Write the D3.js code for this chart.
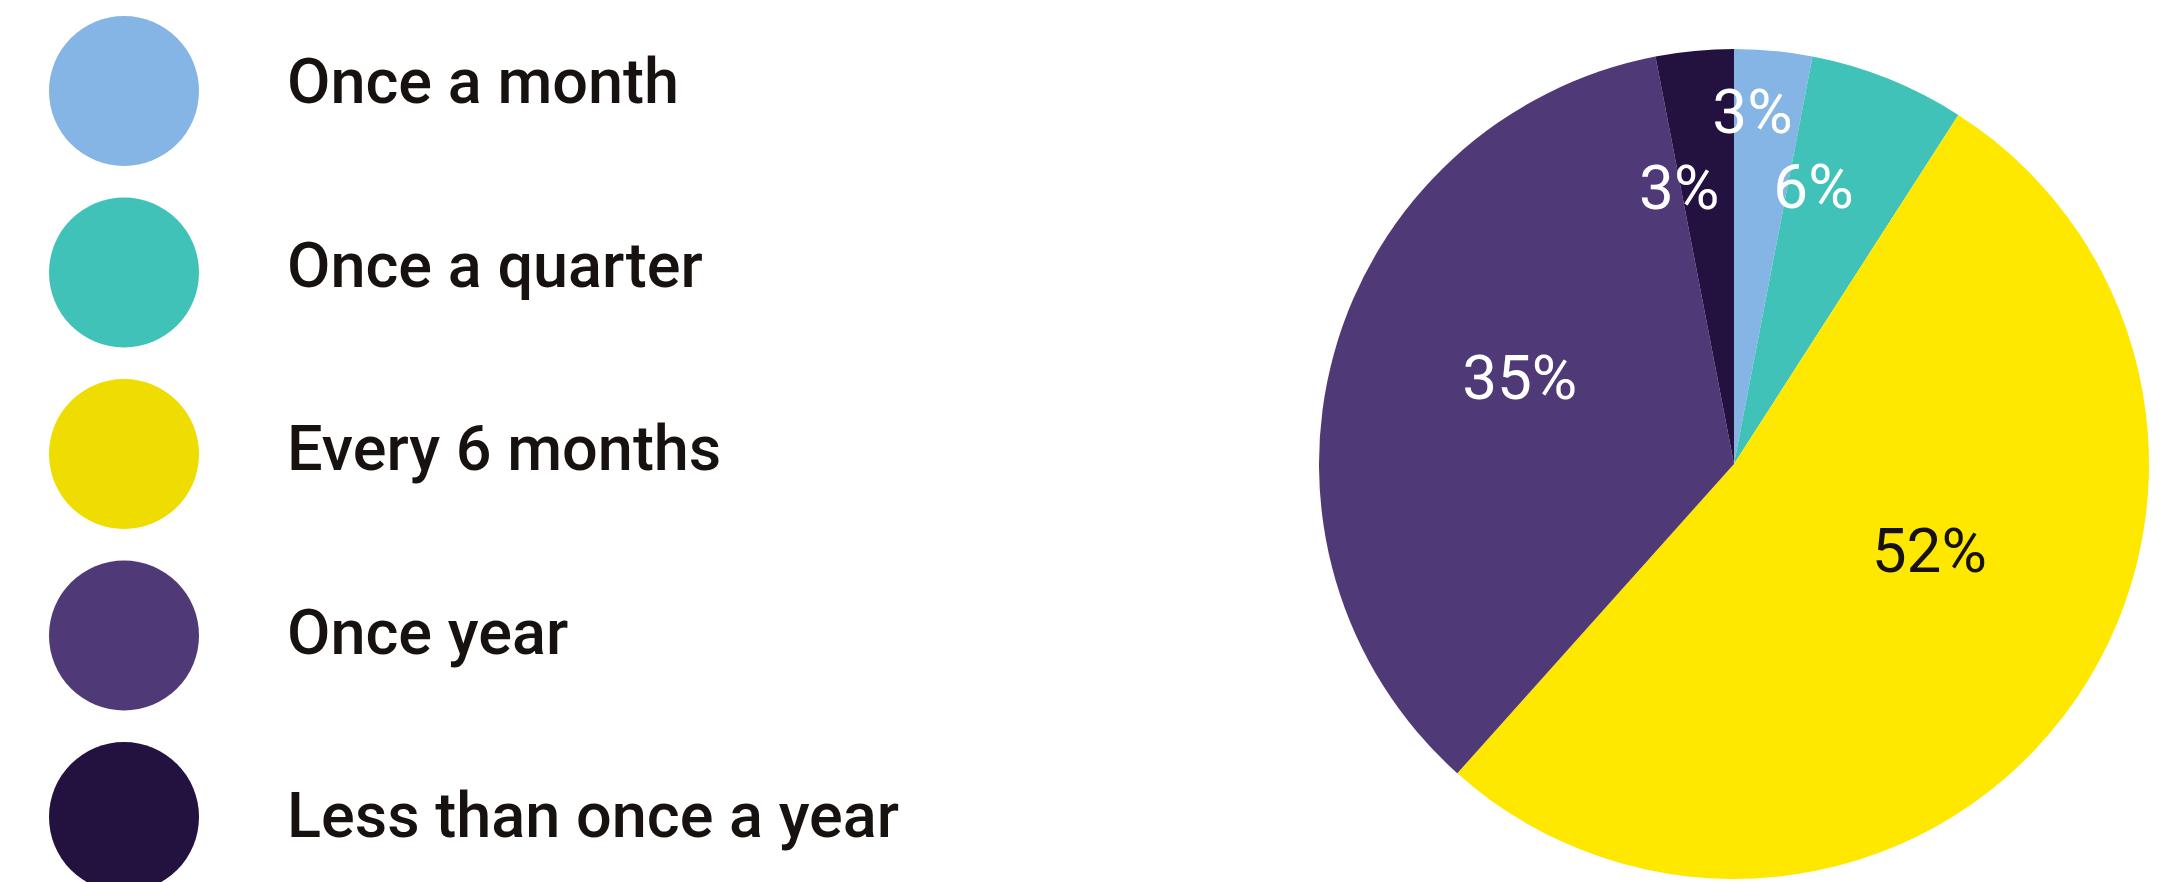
<!DOCTYPE html>
<html>
<head>
<meta charset="utf-8">
<script src="https://cdn.jsdelivr.net/npm/d3@7"></script>
<style>
  html, body { margin: 0; padding: 0; background: #ffffff; }
  svg { display: block; }
</style>
</head>
<body>
<svg id="chart" width="2166" height="882"></svg>
<script>
// ---- data ----
const categories = ["Once a month", "Once a quarter", "Every 6 months", "Once year", "Less than once a year"];
const values = [3, 6, 52, 35, 3];
const labels = ["3%", "6%", "52%", "35%", "3%"];
const pieColors = ["#84b5e4", "#40c2b8", "#ffe800", "#4f3a77", "#231240"];
const legendColors = ["#84b5e4", "#40c2b8", "#efdc00", "#4f3a77", "#231240"];
const labelColors = ["#ffffff", "#ffffff", "#17120f", "#ffffff", "#ffffff"];
// label placement (polar: degrees clockwise from top, radius fraction)
const labelPlacement = [[3, 0.85], [16, 0.695], [114, 0.515], [292, 0.557], [348.8, 0.68]];

const svg = d3.select("#chart");
const fontFamily = "Roboto, 'Noto Sans', 'DejaVu Sans', sans-serif";

// ---- pie ----
const cx = 1734, cy = 464, R = 415;
const pie = d3.pie().sort(null).value(d => d)(values);
const arc = d3.arc().innerRadius(0).outerRadius(R);
const g = svg.append("g").attr("transform", `translate(${cx},${cy})`);
g.selectAll("path.slice").data(pie).join("path")
  .attr("class", "slice")
  .attr("d", arc)
  .attr("fill", (d, i) => pieColors[i]);

const rad = d3.scaleLinear().domain([0, 1]).range([0, R]);
g.selectAll("text.lbl").data(pie).join("text")
  .attr("class", "lbl")
  .attr("x", (d, i) => rad(labelPlacement[i][1]) * Math.sin(labelPlacement[i][0] * Math.PI / 180))
  .attr("y", (d, i) => -rad(labelPlacement[i][1]) * Math.cos(labelPlacement[i][0] * Math.PI / 180))
  .attr("text-anchor", "middle")
  .attr("dominant-baseline", "central")
  .attr("font-family", fontFamily)
  .attr("font-size", 62)
  .attr("fill", (d, i) => labelColors[i])
  .text((d, i) => labels[i]);

// ---- legend ----
const legendY = d3.scalePoint().domain(categories).range([91, 817]);
const textY = d3.scalePoint().domain(categories).range([103, 837]);
const lg = svg.append("g");
lg.selectAll("circle").data(categories).join("circle")
  .attr("cx", 124)
  .attr("cy", d => legendY(d))
  .attr("r", 75)
  .attr("fill", (d, i) => legendColors[i]);
lg.selectAll("text").data(categories).join("text")
  .attr("x", 287)
  .attr("y", d => textY(d))
  .attr("font-family", fontFamily)
  .attr("font-weight", 500)
  .attr("font-size", 63)
  .attr("fill", "#17120f")
  .text(d => d);
</script>
</body>
</html>
